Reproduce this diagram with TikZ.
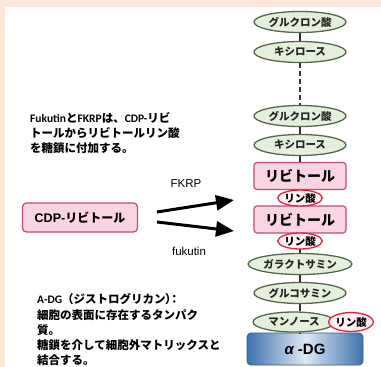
\documentclass[tikz,border=0pt]{standalone}
\usepackage{fontspec}
\usetikzlibrary{shapes.geometric,arrows.meta}
\newfontfamily\jp{Noto Sans CJK JP}
\newfontfamily\lat{Carlito}
\newfontfamily\ar{Liberation Sans}
\definecolor{peach}{HTML}{FDE7D8}
\definecolor{ovfill}{HTML}{E4EFDC}
\definecolor{ovdraw}{HTML}{55694A}
\definecolor{pkfill}{HTML}{F9D5E3}
\definecolor{pkdraw}{HTML}{BF4A80}
\definecolor{phdraw}{HTML}{E0243C}
\definecolor{phfill}{HTML}{FDF1F4}
\definecolor{bluedark}{HTML}{3F72AD}
\definecolor{bluelight}{HTML}{DCE8F4}
\tikzset{
  sugar/.style={ellipse, draw=ovdraw, line width=1.3pt, fill=ovfill, inner sep=0pt,
    minimum width=92pt, minimum height=21pt, text=black!85, font=\jp\bfseries\fontsize{10.5}{11}\selectfont},
  ribbox/.style={rectangle, rounded corners=3pt, draw=pkdraw, line width=1.2pt, fill=pkfill,
    minimum width=92pt, minimum height=27pt, inner sep=0pt, font=\jp\bfseries\fontsize{14}{15}\selectfont},
  phos/.style={ellipse, draw=phdraw, line width=1.3pt, fill=phfill, inner sep=0pt,
    minimum width=42pt, minimum height=16pt, font=\jp\bfseries\fontsize{10.5}{11}\selectfont},
  chain/.style={draw=black!80, line width=1.8pt},
  bigarrow/.style={line width=3pt, -{Triangle[length=18pt,width=15pt]}},
  bodytext/.style={anchor=north west, align=left, inner sep=0pt, font=\jp\bfseries\fontsize{11.5}{15}\selectfont}
}
\begin{document}
\begin{tikzpicture}[x=1pt,y=-1pt]
\useasboundingbox (0,0) rectangle (381,367);
\fill[peach] (0,0) rectangle (381,367);
\fill[white] (5,7) rectangle (381,367);

% chain nodes
\node[sugar] (g1) at (300,22) {グルクロン酸};
\node[sugar] (x1) at (300,52) {キシロース};
\node[sugar] (g2) at (300,116) {グルクロン酸};
\node[sugar] (x2) at (300,145) {キシロース};
\node[ribbox] (r1) at (300,176) {リビトール};
\node[ribbox] (r2) at (300,219.5) {リビトール};
\node[sugar] (gal) at (300,264) {ガラクトサミン};
\node[sugar] (glc) at (300,293) {グルコサミン};
\node[rectangle, rounded corners=4pt, draw=bluedark!80!black, line width=0.8pt,
  left color=bluedark, right color=bluedark, middle color=bluelight,
  minimum width=116pt, minimum height=32pt, inner sep=0pt,
  font=\ar\bfseries\fontsize{15}{16}\selectfont] (adg) at (305,349) {{\itshape α} -DG};
\node[sugar, minimum width=82pt, minimum height=20pt] (man) at (294,322) {マンノース};

% connectors
\draw[chain] (g1) -- (x1);
\draw[chain, dashed, dash pattern=on 5pt off 3pt] (x1) -- (g2);
\draw[chain] (g2) -- (x2);
\draw[chain] (x2) -- (r1);
\draw[chain] (r1) -- (r2);
\draw[chain] (r2) -- (gal);
\draw[chain] (gal) -- (glc);
\draw[chain] (glc) -- (glc |- man.north);
\draw[chain] (glc |- man.south) -- (glc |- adg.north);

\node[phos] (p1) at (300,198) {リン酸};
\node[phos] (p2) at (300,241) {リン酸};
\node[phos, minimum width=35pt, minimum height=19pt] (p3) at (351,322) {リン酸};

% left side
\node[rectangle, rounded corners=4pt, draw=pkdraw, line width=1.2pt, fill=pkfill,
  minimum width=115pt, minimum height=29pt, inner sep=0pt] (cdp) at (80,217.5)
  {\ar\bfseries\fontsize{12.5}{13}\selectfont CDP-\jp\bfseries\fontsize{12}{13}\selectfont リビトール};

\coordinate (a1s) at (157,212);
\coordinate (a1e) at (234,200);
\coordinate (a2s) at (157,222);
\coordinate (a2e) at (234,231);
\draw[bigarrow] (a1s) -- (a1e);
\draw[bigarrow] (a2s) -- (a2e);

\node[font=\ar\fontsize{11.5}{12}\selectfont] (fkrp) at (186,184) {FKRP};
\node[font=\ar\fontsize{11.5}{12}\selectfont] (fuk) at (189,251) {fukutin};

\node[bodytext] (t1) at (30,112)
  {{\lat Fukutin}と{\lat FKRP}は、{\lat CDP-}リビ\\
   トールからリビトールリン酸\\
   を糖鎖に付加する。};

\node[bodytext] (t2) at (37,293)
  {{\lat A-DG}（ジストログリカン{\addfontfeatures{RawFeature=+palt}）：}\\[1pt]
   細胞の表面に存在するタンパク\\
   質。\\
   糖鎖を介して細胞外マトリックスと\\
   結合する。};
\end{tikzpicture}
\end{document}
